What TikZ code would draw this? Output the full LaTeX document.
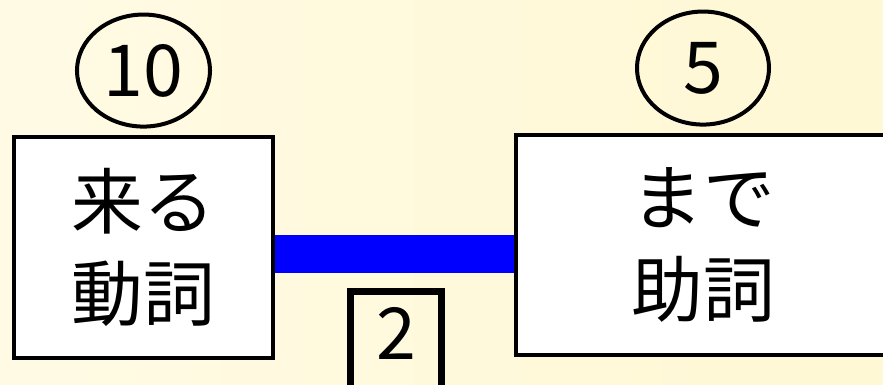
\documentclass[tikz,border=0pt]{standalone}
\usepackage{fontspec}
\newfontfamily\jpfont{Noto Sans CJK JP}
\usepackage{tikz}
\usetikzlibrary{positioning, shapes.geometric}
\definecolor{bgleft}{RGB}{255,250,228}
\definecolor{bgright}{RGB}{255,248,212}

\begin{document}
\begin{tikzpicture}[x=0.025cm, y=0.025cm,
    word/.style={draw, line width=0.1cm, fill=white, align=center, inner sep=0pt,
        font=\jpfont\fontsize{51}{66}\selectfont},
    count/.style={draw, ellipse, line width=0.1cm, inner sep=0pt,
        font=\jpfont\fontsize{51}{66}\selectfont},
    weight/.style={draw, line width=0.17cm, inner sep=0pt, text depth=0.4cm,
        font=\jpfont\fontsize{51}{66}\selectfont},
    link/.style={draw=blue, line width=0.95cm}]
    % Frame and background
    \useasboundingbox (0,0) rectangle (883,384);
    \clip (0,0) rectangle (883,384);
    \shade[left color=bgleft, right color=bgright] (0,0) rectangle (883,384);

    % Words
    \node[word, minimum width=6.475cm, minimum height=5.525cm] (kuru) at (143.5,136.5) {来る\\動詞};
    \node[word, minimum width=9.35cm, minimum height=5.5cm] (made) at (703,139) {まで\\助詞};

    % Counts
    \node[count, minimum width=3.325cm, minimum height=2.8cm, above=0.16cm of kuru] (kurun) {10};
    \node[count, minimum width=3.3cm, minimum height=2.825cm, above=0.16cm of made] (maden) {5};

    % Link
    \draw[link] ([yshift=-0.1625cm]kuru.east) -- ([yshift=-0.1625cm]kuru.east -| made.west);
    \node[weight, minimum width=2.275cm, minimum height=2.475cm] (linkw) at (396,43) {2};
\end{tikzpicture}
\end{document}
